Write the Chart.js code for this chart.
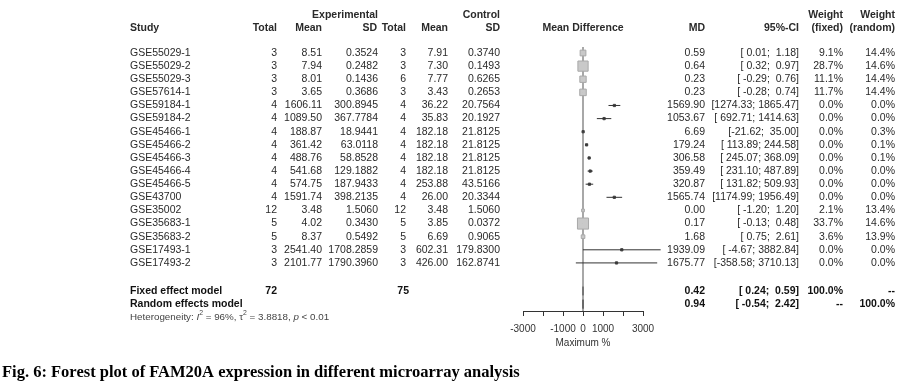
<!DOCTYPE html>
<html lang="en">
<head>
<meta charset="UTF-8">
<title>Forest plot of FAM20A expression</title>
<script src="https://cdn.jsdelivr.net/npm/chart.js"></script>
<style>
  html, body { margin: 0; padding: 0; background: #fff; }
  #wrap { width: 920px; height: 391px; }
</style>
</head>
<body>
<div id="wrap"><canvas id="forest" width="920" height="391"></canvas></div>
<script>
// study rows
const studies = ['GSE55029-1', 'GSE55029-2', 'GSE55029-3', 'GSE57614-1', 'GSE59184-1', 'GSE59184-2',
  'GSE45466-1', 'GSE45466-2', 'GSE45466-3', 'GSE45466-4', 'GSE45466-5', 'GSE43700', 'GSE35002',
  'GSE35683-1', 'GSE35683-2', 'GSE17493-1', 'GSE17493-2'];
const expTotal = [3, 3, 3, 3, 4, 4, 4, 4, 4, 4, 4, 4, 12, 5, 5, 3, 3];
const expMean = [8.51, 7.94, 8.01, 3.65, 1606.11, 1089.50, 188.87, 361.42, 488.76, 541.68, 574.75, 1591.74, 3.48, 4.02, 8.37, 2541.40, 2101.77];
const expSD = [0.3524, 0.2482, 0.1436, 0.3686, 300.8945, 367.7784, 18.9441, 63.0118, 58.8528, 129.1882, 187.9433, 398.2135, 1.5060, 0.3430, 0.5492, 1708.2859, 1790.3960];
const ctrlTotal = [3, 3, 6, 3, 4, 4, 4, 4, 4, 4, 4, 4, 12, 5, 5, 3, 3];
const ctrlMean = [7.91, 7.30, 7.77, 3.43, 36.22, 35.83, 182.18, 182.18, 182.18, 182.18, 253.88, 26.00, 3.48, 3.85, 6.69, 602.31, 426.00];
const ctrlSD = [0.3740, 0.1493, 0.6265, 0.2653, 20.7564, 20.1927, 21.8125, 21.8125, 21.8125, 21.8125, 43.5166, 20.3344, 1.5060, 0.0372, 0.9065, 179.8300, 162.8741];
const md = [0.59, 0.64, 0.23, 0.23, 1569.90, 1053.67, 6.69, 179.24, 306.58, 359.49, 320.87, 1565.74, 0.00, 0.17, 1.68, 1939.09, 1675.77];
const ciLow = [0.01, 0.32, -0.29, -0.28, 1274.33, 692.71, -21.62, 113.89, 245.07, 231.10, 131.82, 1174.99, -1.20, -0.13, 0.75, -4.67, -358.58];
const ciHigh = [1.18, 0.97, 0.76, 0.74, 1865.47, 1414.63, 35.00, 244.58, 368.09, 487.89, 509.93, 1956.49, 1.20, 0.48, 2.61, 3882.84, 3710.13];
const wFixed = [9.1, 28.7, 11.1, 11.7, 0, 0, 0, 0, 0, 0, 0, 0, 2.1, 33.7, 3.6, 0, 0];
const wRandom = [14.4, 14.6, 14.4, 14.4, 0, 0, 0.3, 0.1, 0.1, 0, 0, 0, 13.4, 14.6, 13.9, 0, 0];

// pooled estimates
const modelNames = ['Fixed effect model', 'Random effects model'];
const modelMD = [0.42, 0.94];
const modelLow = [0.24, -0.54];
const modelHigh = [0.59, 2.42];
const modelWFixed = ['100.0%', '--'];
const modelWRandom = ['--', '100.0%'];
const pooledTotals = [72, 75];

// axis
const xTicksShown = [-3000, -1000, 0, 1000, 3000];
const xTitle = 'Maximum %';
const caption = 'Fig. 6: Forest plot of FAM20A expression in different microarray analysis';

// layout (pixels)
const ROW0 = 53, ROWH = 13.12, TOP = 47, AXIS = 311;
const yMin = (TOP - ROW0) / ROWH;
const yMax = (AXIS - ROW0) / ROWH;
const SANS = '"Liberation Sans", Arial, sans-serif';
const FS = 10.5;
const LEFT = 130;

function fmtCI(lo, hi) {
  const a = lo.toFixed(2), b = hi.toFixed(2);
  const padA = (a.length >= 7 || (a[0] === '-' && a.length >= 6)) ? '' : ' ';
  const padB = b.length <= 5 ? '  ' : ' ';
  return '[' + padA + a + ';' + padB + b + ']';
}
const pct = v => v.toFixed(1) + '%';
const sqRadius = w => Math.max(1.6, 1.35 * Math.sqrt(w));

// CI segments as one line dataset, broken by nulls
const ciPoints = [];
studies.forEach((s, i) => {
  ciPoints.push({ x: ciLow[i], y: i }, { x: ciHigh[i], y: i }, { x: null, y: null });
});
const modelRows = [18.14, 19.14];
const diamondPoints = [];
modelMD.forEach((m, k) => {
  const r = modelRows[k];
  diamondPoints.push({ x: modelLow[k], y: r }, { x: m, y: r - 0.33 }, { x: modelHigh[k], y: r },
    { x: m, y: r + 0.33 }, { x: modelLow[k], y: r }, { x: null, y: null });
});

const tablePlugin = {
  id: 'forestTable',
  beforeDraw(chart) {
    const c = chart.ctx;
    c.save();
    c.fillStyle = '#fff';
    c.fillRect(0, 0, chart.width, chart.height);
    c.restore();
  },
  afterDraw(chart) {
    const c = chart.ctx;
    const ys = chart.scales.y;
    const py = r => ys.getPixelForValue(r);
    const txt = (s, x, y, align, bold, color, size) => {
      c.font = (bold ? 'bold ' : '') + (size || FS) + 'px ' + SANS;
      c.fillStyle = color || '#2a2a2a';
      c.textAlign = align;
      c.textBaseline = 'middle';
      c.fillText(s, x, y);
    };
    c.save();

    // headers
    const h1 = py(-2.9), h2 = py(-1.9);
    txt('Experimental', 378, h1, 'right', true);
    txt('Control', 500, h1, 'right', true);
    txt('Weight', 843, h1, 'right', true);
    txt('Weight', 895, h1, 'right', true);
    txt('Study', LEFT, h2, 'left', true);
    txt('Total', 277, h2, 'right', true);
    txt('Mean', 322, h2, 'right', true);
    txt('SD', 377, h2, 'right', true);
    txt('Total', 406, h2, 'right', true);
    txt('Mean', 448, h2, 'right', true);
    txt('SD', 500, h2, 'right', true);
    txt('Mean Difference', chart.scales.x.getPixelForValue(0), h2, 'center', true);
    txt('MD', 705, h2, 'right', true);
    txt('95%-CI', 799, h2, 'right', true);
    txt('(fixed)', 843, h2, 'right', true);
    txt('(random)', 895, h2, 'right', true);

    // study rows
    studies.forEach((s, i) => {
      const y = py(i);
      txt(s, LEFT, y, 'left');
      txt(String(expTotal[i]), 277, y, 'right');
      txt(expMean[i].toFixed(2), 322, y, 'right');
      txt(expSD[i].toFixed(4), 378, y, 'right');
      txt(String(ctrlTotal[i]), 406, y, 'right');
      txt(ctrlMean[i].toFixed(2), 448, y, 'right');
      txt(ctrlSD[i].toFixed(4), 500, y, 'right');
      txt(md[i].toFixed(2), 705, y, 'right');
      txt(fmtCI(ciLow[i], ciHigh[i]), 799, y, 'right');
      txt(pct(wFixed[i]), 843, y, 'right');
      txt(pct(wRandom[i]), 895, y, 'right');
    });

    // pooled rows
    modelNames.forEach((name, k) => {
      const y = py(modelRows[k]);
      txt(name, LEFT, y, 'left', true, '#111');
      if (k === 0) {
        txt(String(pooledTotals[0]), 277, y, 'right', true, '#111');
        txt(String(pooledTotals[1]), 409, y, 'right', true, '#111');
      }
      txt(modelMD[k].toFixed(2), 705, y, 'right', true, '#111');
      txt(fmtCI(modelLow[k], modelHigh[k]), 799, y, 'right', true, '#111');
      txt(modelWFixed[k], 843, y, 'right', true, '#111');
      txt(modelWRandom[k], 895, y, 'right', true, '#111');
    });

    // heterogeneity line with italics and superscripts
    const hy = py(20.12);
    const hs = 9.8;
    const parts = [
      ['Heterogeneity: ', ''], ['I', 'italic '], ['2', 'sup'], [' = 96%, \u03c4', ''], ['2', 'sup'],
      [' = 3.8818, ', ''], ['p', 'italic '], [' < 0.01', '']
    ];
    let hx = LEFT;
    c.fillStyle = '#444';
    c.textAlign = 'left';
    c.textBaseline = 'middle';
    parts.forEach(([s, st]) => {
      if (st === 'sup') {
        c.font = (hs * 0.7) + 'px ' + SANS;
        c.fillText(s, hx, hy - 4);
      } else {
        c.font = st + hs + 'px ' + SANS;
        c.fillText(s, hx, hy);
      }
      hx += c.measureText(s).width;
    });

    // figure caption
    c.font = 'bold 16.5px "Liberation Serif", "Times New Roman", serif';
    c.fillStyle = '#000';
    c.textAlign = 'left';
    c.textBaseline = 'middle';
    c.fillText(caption, 2, 373);
    c.restore();
  }
};

new Chart(document.getElementById('forest').getContext('2d'), {
  type: 'line',
  data: {
    datasets: [
      {
        label: 'CI',
        data: ciPoints,
        borderColor: '#333',
        borderWidth: 1,
        pointRadius: 0,
        spanGaps: false,
        clip: false,
        order: 1
      },
      {
        label: 'pooled',
        data: diamondPoints,
        borderColor: '#666',
        backgroundColor: '#888',
        borderWidth: 1,
        pointRadius: 0,
        spanGaps: false,
        order: 0
      },
      {
        label: 'MD',
        type: 'scatter',
        data: studies.map((s, i) => ({ x: md[i], y: i })),
        pointStyle: 'rect',
        pointRadius: c => sqRadius(wFixed[c.dataIndex]),
        backgroundColor: c => wFixed[c.dataIndex] > 0 ? '#c9c9c9' : '#444',
        borderColor: c => wFixed[c.dataIndex] > 0 ? '#a9a9a9' : '#444',
        borderWidth: 1,
        clip: false,
        order: 2
      },
      {
        label: 'null',
        data: [{ x: 0, y: yMin }, { x: 0, y: yMax }],
        borderColor: '#8c8c8c',
        borderWidth: 1.5,
        pointRadius: 0,
        order: 3
      }
    ]
  },
  options: {
    responsive: false,
    animation: false,
    events: [],
    devicePixelRatio: 1,
    layout: { padding: { left: 523, right: 277, top: TOP, bottom: 40 } },
    plugins: { legend: { display: false }, tooltip: { enabled: false } },
    scales: {
      x: {
        type: 'linear',
        min: -3000,
        max: 3000,
        afterFit: s => { s.height = 40; },
        ticks: {
          stepSize: 1000,
          autoSkip: false,
          maxRotation: 0,
          minRotation: 0,
          padding: 7,
          color: '#333',
          font: { family: SANS, size: 10 },
          callback: v => xTicksShown.includes(v) ? String(v) : ''
        },
        grid: { drawOnChartArea: false, drawTicks: true, tickLength: 5, color: '#333' },
        border: { display: true, color: '#333', width: 1 },
        title: { display: true, text: xTitle, color: '#333', font: { family: SANS, size: 10 }, padding: { top: 0, bottom: 2 } }
      },
      y: {
        type: 'linear',
        display: false,
        reverse: true,
        min: yMin,
        max: yMax
      }
    }
  },
  plugins: [tablePlugin]
});
</script>
</body>
</html>
